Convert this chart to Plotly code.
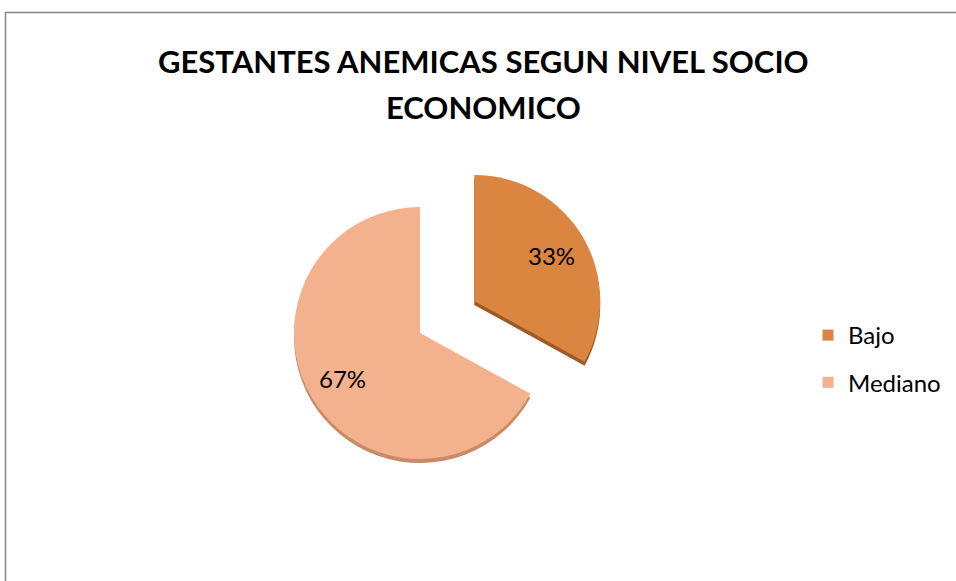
import math
import plotly.graph_objects as go

# Gestantes anémicas según nivel socioeconómico
categorias = ["Bajo", "Mediano"]
porcentajes = [33, 67]
colores = ["#DA8540", "#F4B18D"]
colores_borde = ["#9E5A25", "#C98A68"]
separacion = [0.5, 0.0]
titulo = ["GESTANTES ANEMICAS SEGUN NIVEL SOCIO", "ECONOMICO"]

W, H = 956, 581
FONT = "Lato"

# pie placement (pixels): centre and radius of the un-pulled pie
cx, cy, r = 420, 333, 126
half = r * (1 + max(separacion))
label_frac = 0.71  # radial position of the percentage labels


def dominio(dx=0, dy=0):
    return dict(
        x=[(cx + dx - half) / W, (cx + dx + half) / W],
        y=[1 - (cy + dy + half) / H, 1 - (cy + dy - half) / H],
    )


fig = go.Figure()

# darker copy slightly lower gives the slices some thickness
fig.add_trace(go.Pie(
    labels=categorias, values=porcentajes, sort=False, direction="clockwise",
    rotation=0, pull=separacion, domain=dominio(dy=4),
    marker=dict(colors=colores_borde, line=dict(width=0)),
    textinfo="none", hoverinfo="skip", showlegend=False,
))

fig.add_trace(go.Pie(
    labels=categorias, values=porcentajes, sort=False, direction="clockwise",
    rotation=0, pull=separacion, domain=dominio(),
    marker=dict(colors=colores, line=dict(width=0)),
    textinfo="none", hovertemplate="%{label}: %{percent:.0%}<extra></extra>",
    showlegend=False,
))

# percentage labels placed along each slice's mid-angle
anotaciones = []
total = sum(porcentajes)
acumulado = 0
for valor, tirar in zip(porcentajes, separacion):
    medio = (acumulado + valor / 2) / total * 2 * math.pi
    acumulado += valor
    dist = r * (tirar + label_frac)
    px = cx + dist * math.sin(medio)
    py = cy - dist * math.cos(medio)
    anotaciones.append(dict(
        text=f"{round(100 * valor / total)}%", x=px / W, y=1 - py / H,
        xref="paper", yref="paper", xanchor="center", yanchor="middle",
        showarrow=False, font=dict(family=FONT, size=24, color="#000000"),
    ))

# two-line bold title
for linea, ty in zip(titulo, [61, 107]):
    anotaciones.append(dict(
        text=f"<b>{linea}</b>", x=483 / W, y=1 - ty / H,
        xref="paper", yref="paper", xanchor="center", yanchor="middle",
        showarrow=False, font=dict(family=FONT, size=31, color="#000000"),
    ))

# legend entries (square swatches), one group each so they can be spaced
for nombre, color in zip(categorias, colores):
    fig.add_trace(go.Scatter(
        x=[None], y=[None], mode="markers", name=nombre, legendgroup=nombre,
        marker=dict(symbol="square", size=11, color=color),
    ))

fig.update_layout(
    width=W, height=H,
    margin=dict(l=0, r=0, t=0, b=0),
    paper_bgcolor="white", plot_bgcolor="white",
    xaxis=dict(visible=False), yaxis=dict(visible=False),
    font=dict(family=FONT, color="#000000"),
    legend=dict(
        x=808 / W, xanchor="left", y=1 - 359 / H, yanchor="middle",
        font=dict(family=FONT, size=24, color="#000000"),
        tracegroupgap=13, bgcolor="rgba(0,0,0,0)",
    ),
    annotations=anotaciones,
    shapes=[dict(
        type="rect", xref="paper", yref="paper",
        x0=5.5 / W, x1=1.2, y0=-0.2, y1=1 - 12.5 / H,
        line=dict(color="#868686", width=1.5), fillcolor="rgba(0,0,0,0)",
        layer="above",
    )],
)

fig.write_html("out.html")
